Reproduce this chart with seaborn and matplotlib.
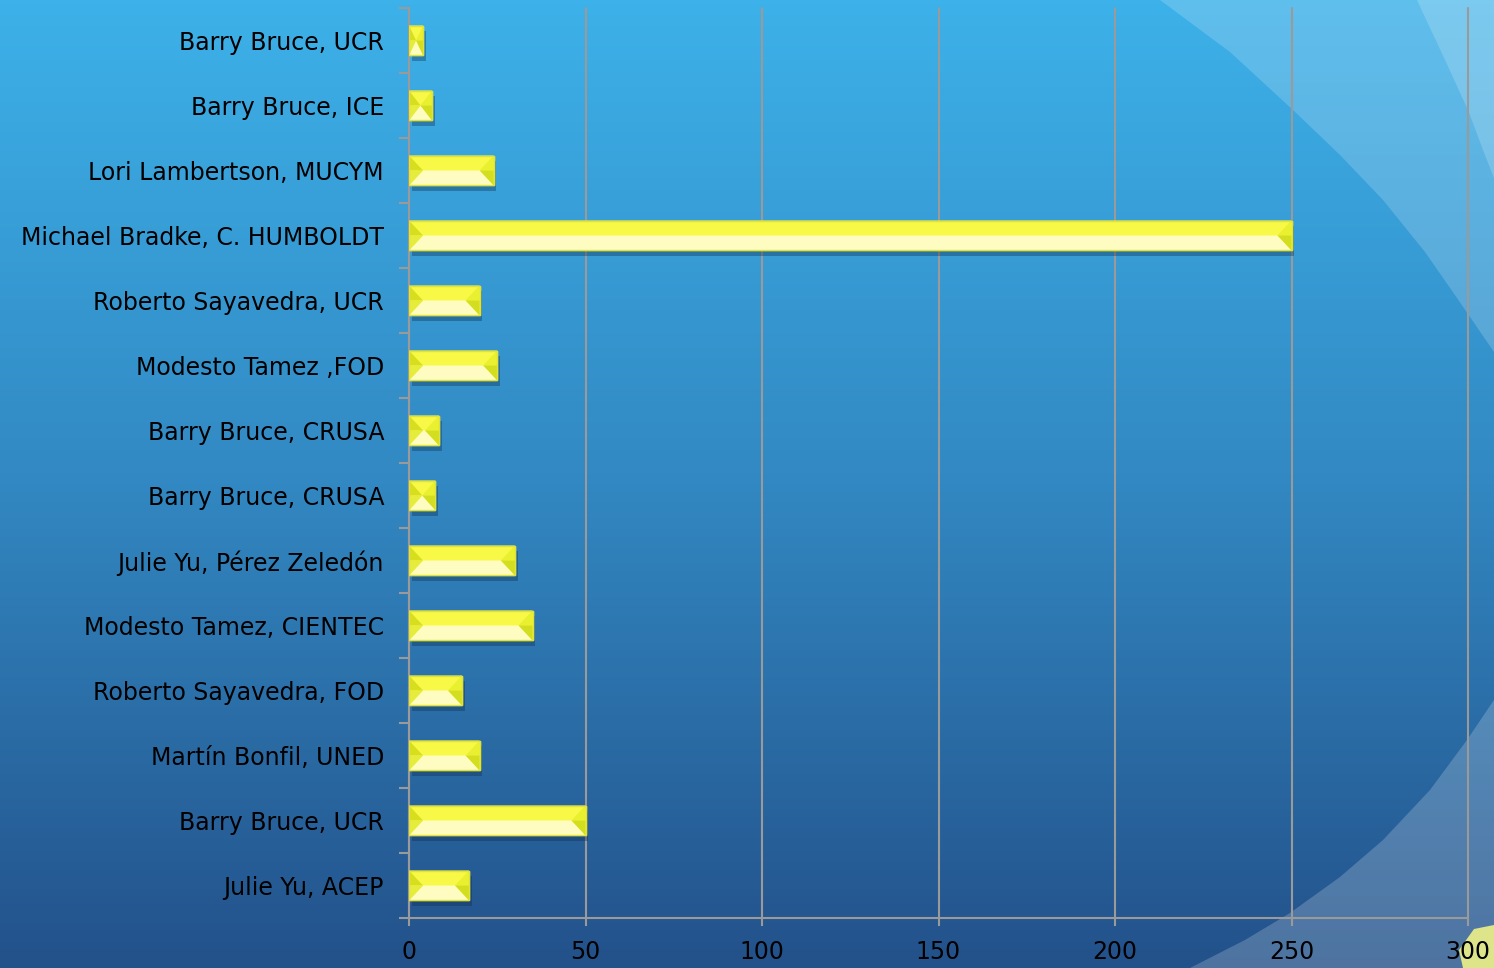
import numpy as np
import pandas as pd
import matplotlib
matplotlib.use("Agg")
import matplotlib.pyplot as plt
import matplotlib.patheffects as pe
from matplotlib.patches import Polygon
from matplotlib.colors import LinearSegmentedColormap
import seaborn as sns

# ---- data ----
labels = ["Barry Bruce, UCR", "Barry Bruce, ICE", "Lori Lambertson, MUCYM",
          "Michael Bradke, C. HUMBOLDT", "Roberto Sayavedra, UCR", "Modesto Tamez ,FOD",
          "Barry Bruce, CRUSA", "Barry Bruce, CRUSA", "Julie Yu, Pérez Zeledón",
          "Modesto Tamez, CIENTEC", "Roberto Sayavedra, FOD", "Martín Bonfil, UNED",
          "Barry Bruce, UCR", "Julie Yu, ACEP"]
values = [4, 6.5, 24, 250, 20, 25, 8.5, 7.5, 30, 35, 15, 20, 50, 17]
xticks = [0, 50, 100, 150, 200, 250, 300]

sns.set_theme(style="white")
plt.rcParams['font.family'] = ['DejaVu Sans']

W, H = 1494, 968
fig = plt.figure(figsize=(W / 100, H / 100), dpi=100)

# ---- background ----
bg = fig.add_axes([0, 0, 1, 1], zorder=0)
bg.set_xlim(0, W)
bg.set_ylim(H, 0)
bg.axis("off")
cmap = LinearSegmentedColormap.from_list("bgc", ["#3DB1E9", "#3288C2", "#23518A"])
grad = np.linspace(0, 1, 256).reshape(-1, 1)
bg.imshow(grad, cmap=cmap, extent=[0, W, H, 0], aspect="auto")
bg.add_patch(Polygon([(1160, 0), (1230, 52), (1293, 110), (1340, 155), (1383, 200),
                      (1425, 252), (1457, 298), (1494, 352), (1494, 0)],
                     closed=True, fc="white", alpha=0.18, lw=0))
bg.add_patch(Polygon([(1417, 0), (1445, 60), (1468, 110), (1483, 150), (1494, 178),
                      (1494, 0)], closed=True, fc="white", alpha=0.18, lw=0))
bg.add_patch(Polygon([(1190, 968), (1245, 940), (1290, 913), (1340, 877), (1383, 840),
                      (1430, 790), (1467, 740), (1494, 700), (1494, 968)],
                     closed=True, fc="white", alpha=0.2, lw=0))
bg.add_patch(Polygon([(1463, 968), (1459, 950), (1474, 929), (1494, 925), (1494, 968)],
                     closed=True, fc="#DDE48A", lw=0))

# ---- main axes ----
ax = fig.add_axes([409 / W, 1 - 918 / H, (1468 - 409) / W, (918 - 8) / H], zorder=1)
ax.patch.set_alpha(0)

df = pd.DataFrame({"row": [str(i) for i in range(len(labels))], "value": values})
sns.barplot(data=df, x="value", y="row", orient="h", color="#F7F842",
            width=0.46, saturation=1, ax=ax, zorder=3)

ax.set_xlim(0, 300)
ax.set_ylim(len(labels) - 0.5, -0.5)
ax.set_xticks(xticks)
ax.set_xticklabels([str(t) for t in xticks])
ax.set_yticks(range(len(labels)))
ax.set_yticklabels(labels)
ax.set_yticks(np.arange(-0.5, len(labels), 1), minor=True)
ax.set_xlabel("")
ax.set_ylabel("")

gcol = "#9A9A9A"
ax.grid(axis="x", color=gcol, lw=1.5, zorder=1)
ax.grid(axis="y", visible=False)
ax.set_axisbelow(True)
for gl in ax.get_xgridlines():
    gl.set_clip_on(False)
for s in ["top", "right"]:
    ax.spines[s].set_visible(False)
for s in ["left", "bottom"]:
    ax.spines[s].set_color(gcol)
    ax.spines[s].set_linewidth(1.5)

ax.tick_params(axis="y", which="major", length=0, pad=18, labelsize=17, labelcolor="black")
ax.tick_params(axis="y", which="minor", length=7.2, width=1.5, color=gcol, left=True)
ax.tick_params(axis="x", which="major", length=6, width=1.5, color=gcol, bottom=True,
               pad=10, labelsize=17, labelcolor="black")

# ---- bevel decoration on bars ----
fig.canvas.draw()
px_per_x = ax.bbox.width / 300.0
dx = 14 / px_per_x
for p in list(ax.patches):
    x0, y0 = p.get_x(), p.get_y()
    w, h = p.get_width(), p.get_height()
    x1 = x0 + w
    yt, yb, yc = y0, y0 + h, y0 + h / 2
    e = min(dx, w / 2)
    p.set_edgecolor("#E2E43A")
    p.set_linewidth(1)
    p.set_path_effects([pe.SimplePatchShadow(offset=(2, -4), shadow_rgbFace="#0E2A4A",
                                             alpha=0.35), pe.Normal()])
    polys = [
        ([(x0, yt), (x1, yt), (x1 - e, yc), (x0 + e, yc)], "#F8F846"),
        ([(x0, yb), (x1, yb), (x1 - e, yc), (x0 + e, yc)], "#FFFCC2"),
        ([(x0, yt), (x0 + e, yc), (x0, yc)], "#D6DE1E"),
        ([(x0, yc), (x0 + e, yc), (x0, yb)], "#E6EC3C"),
        ([(x1, yt), (x1 - e, yc), (x1, yc)], "#E8F030"),
        ([(x1, yc), (x1 - e, yc), (x1, yb)], "#D4DE20"),
    ]
    for pts, c in polys:
        ax.add_patch(Polygon(pts, closed=True, fc=c, lw=0, zorder=4))
    ax.add_patch(Polygon([(x0, yt), (x1, yt), (x1, yb), (x0, yb)], closed=True,
                         fill=False, ec="#E0E23A", lw=1, zorder=5))

fig.savefig("out.png", dpi=100)
